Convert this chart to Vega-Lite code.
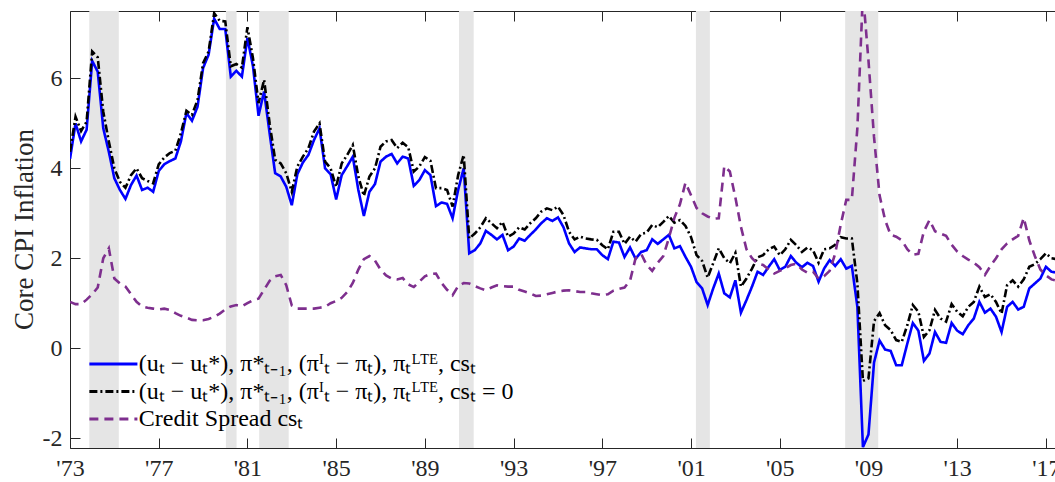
{
"$schema":"https://vega.github.io/schema/vega-lite/v6.json",
"width":985,"height":437,
"autosize":{"type":"none"},
"padding":{"left":70,"top":11,"right":0,"bottom":34},
"background":"white",
"config":{
 "view":{"stroke":"#262626","strokeWidth":1},
 "axis":{"domainColor":"#262626","tickColor":"#262626","labelColor":"#262626","titleColor":"#262626","labelFont":"Liberation Serif","titleFont":"Liberation Serif","labelFontSize":24,"grid":false,"tickSize":-10,"titleFontWeight":"normal"},
 "legend":{"orient":"none","legendX":31.4,"legendY":341,"symbolType":"M-2.5,0H2.5","symbolSize":369,"symbolStrokeWidth":3,"labelFont":"Liberation Serif","labelFontSize":24,"labelColor":"black","labelOffset":13.4,"padding":0,"rowPadding":3.5,"labelLimit":600}
},
"datasets":{
 "rec":[{"start":1973.87,"end":1975.2},{"start":1980.03,"end":1980.51},{"start":1981.53,"end":1982.86},{"start":1990.54,"end":1991.2},{"start":2001.22,"end":2001.85},{"start":2007.95,"end":2009.44}],
 "series":[
{"year":1973,"series":"A","value":4.21},{"year":1973.25,"series":"A","value":5.0},{"year":1973.5,"series":"A","value":4.6},{"year":1973.75,"series":"A","value":4.86},
{"year":1974,"series":"A","value":6.39},{"year":1974.25,"series":"A","value":6.15},{"year":1974.5,"series":"A","value":4.89},{"year":1974.75,"series":"A","value":4.37},
{"year":1975,"series":"A","value":3.78},{"year":1975.25,"series":"A","value":3.52},{"year":1975.5,"series":"A","value":3.32},{"year":1975.75,"series":"A","value":3.63},
{"year":1976,"series":"A","value":3.84},{"year":1976.25,"series":"A","value":3.52},{"year":1976.5,"series":"A","value":3.57},{"year":1976.75,"series":"A","value":3.48},
{"year":1977,"series":"A","value":3.94},{"year":1977.25,"series":"A","value":4.09},{"year":1977.5,"series":"A","value":4.16},{"year":1977.75,"series":"A","value":4.22},
{"year":1978,"series":"A","value":4.6},{"year":1978.25,"series":"A","value":5.23},{"year":1978.5,"series":"A","value":5.06},{"year":1978.75,"series":"A","value":5.37},
{"year":1979,"series":"A","value":6.23},{"year":1979.25,"series":"A","value":6.53},{"year":1979.5,"series":"A","value":7.33},{"year":1979.75,"series":"A","value":7.1},
{"year":1980,"series":"A","value":7.1},{"year":1980.25,"series":"A","value":6.04},{"year":1980.5,"series":"A","value":6.17},{"year":1980.75,"series":"A","value":6.04},
{"year":1981,"series":"A","value":6.9},{"year":1981.25,"series":"A","value":6.27},{"year":1981.5,"series":"A","value":5.17},{"year":1981.75,"series":"A","value":5.71},
{"year":1982,"series":"A","value":4.78},{"year":1982.25,"series":"A","value":3.89},{"year":1982.5,"series":"A","value":3.82},{"year":1982.75,"series":"A","value":3.59},
{"year":1983,"series":"A","value":3.18},{"year":1983.25,"series":"A","value":3.87},{"year":1983.5,"series":"A","value":4.13},{"year":1983.75,"series":"A","value":4.3},
{"year":1984,"series":"A","value":4.63},{"year":1984.25,"series":"A","value":4.89},{"year":1984.5,"series":"A","value":4.0},{"year":1984.75,"series":"A","value":3.87},
{"year":1985,"series":"A","value":3.31},{"year":1985.25,"series":"A","value":3.85},{"year":1985.5,"series":"A","value":4.05},{"year":1985.75,"series":"A","value":4.26},
{"year":1986,"series":"A","value":3.52},{"year":1986.25,"series":"A","value":2.94},{"year":1986.5,"series":"A","value":3.48},{"year":1986.75,"series":"A","value":3.65},
{"year":1987,"series":"A","value":4.15},{"year":1987.25,"series":"A","value":4.26},{"year":1987.5,"series":"A","value":4.32},{"year":1987.75,"series":"A","value":4.11},
{"year":1988,"series":"A","value":4.26},{"year":1988.25,"series":"A","value":4.22},{"year":1988.5,"series":"A","value":3.61},{"year":1988.75,"series":"A","value":3.74},
{"year":1989,"series":"A","value":3.96},{"year":1989.25,"series":"A","value":3.85},{"year":1989.5,"series":"A","value":3.16},{"year":1989.75,"series":"A","value":3.24},
{"year":1990,"series":"A","value":3.21},{"year":1990.25,"series":"A","value":2.89},{"year":1990.5,"series":"A","value":3.52},{"year":1990.75,"series":"A","value":4.0},
{"year":1991,"series":"A","value":2.11},{"year":1991.25,"series":"A","value":2.18},{"year":1991.5,"series":"A","value":2.33},{"year":1991.75,"series":"A","value":2.61},
{"year":1992,"series":"A","value":2.52},{"year":1992.25,"series":"A","value":2.42},{"year":1992.5,"series":"A","value":2.52},{"year":1992.75,"series":"A","value":2.18},
{"year":1993,"series":"A","value":2.26},{"year":1993.25,"series":"A","value":2.44},{"year":1993.5,"series":"A","value":2.39},{"year":1993.75,"series":"A","value":2.52},
{"year":1994,"series":"A","value":2.64},{"year":1994.25,"series":"A","value":2.78},{"year":1994.5,"series":"A","value":2.89},{"year":1994.75,"series":"A","value":2.83},
{"year":1995,"series":"A","value":2.91},{"year":1995.25,"series":"A","value":2.69},{"year":1995.5,"series":"A","value":2.33},{"year":1995.75,"series":"A","value":2.14},
{"year":1996,"series":"A","value":2.24},{"year":1996.25,"series":"A","value":2.22},{"year":1996.5,"series":"A","value":2.2},{"year":1996.75,"series":"A","value":2.2},
{"year":1997,"series":"A","value":2.07},{"year":1997.25,"series":"A","value":1.98},{"year":1997.5,"series":"A","value":2.37},{"year":1997.75,"series":"A","value":2.35},
{"year":1998,"series":"A","value":2.03},{"year":1998.25,"series":"A","value":2.24},{"year":1998.5,"series":"A","value":1.99},{"year":1998.75,"series":"A","value":2.14},
{"year":1999,"series":"A","value":2.18},{"year":1999.25,"series":"A","value":2.42},{"year":1999.5,"series":"A","value":2.32},{"year":1999.75,"series":"A","value":2.42},
{"year":2000,"series":"A","value":2.52},{"year":2000.25,"series":"A","value":2.22},{"year":2000.5,"series":"A","value":2.27},{"year":2000.75,"series":"A","value":2.03},
{"year":2001,"series":"A","value":1.81},{"year":2001.25,"series":"A","value":1.47},{"year":2001.5,"series":"A","value":1.33},{"year":2001.75,"series":"A","value":0.96},
{"year":2002,"series":"A","value":1.33},{"year":2002.25,"series":"A","value":1.66},{"year":2002.5,"series":"A","value":1.22},{"year":2002.75,"series":"A","value":1.13},
{"year":2003,"series":"A","value":1.51},{"year":2003.25,"series":"A","value":0.79},{"year":2003.5,"series":"A","value":1.07},{"year":2003.75,"series":"A","value":1.37},
{"year":2004,"series":"A","value":1.7},{"year":2004.25,"series":"A","value":1.63},{"year":2004.5,"series":"A","value":1.81},{"year":2004.75,"series":"A","value":1.98},
{"year":2005,"series":"A","value":1.74},{"year":2005.25,"series":"A","value":1.81},{"year":2005.5,"series":"A","value":2.05},{"year":2005.75,"series":"A","value":1.9},
{"year":2006,"series":"A","value":1.8},{"year":2006.25,"series":"A","value":1.9},{"year":2006.5,"series":"A","value":1.83},{"year":2006.75,"series":"A","value":1.48},
{"year":2007,"series":"A","value":1.77},{"year":2007.25,"series":"A","value":1.96},{"year":2007.5,"series":"A","value":1.83},{"year":2007.75,"series":"A","value":1.98},
{"year":2008,"series":"A","value":1.77},{"year":2008.25,"series":"A","value":1.83},{"year":2008.5,"series":"A","value":0.92},{"year":2008.75,"series":"A","value":-2.2},
{"year":2009,"series":"A","value":-1.92},{"year":2009.25,"series":"A","value":-0.32},{"year":2009.5,"series":"A","value":0.17},{"year":2009.75,"series":"A","value":-0.03},
{"year":2010,"series":"A","value":-0.06},{"year":2010.25,"series":"A","value":-0.38},{"year":2010.5,"series":"A","value":-0.38},{"year":2010.75,"series":"A","value":0.1},
{"year":2011,"series":"A","value":0.56},{"year":2011.25,"series":"A","value":0.39},{"year":2011.5,"series":"A","value":-0.28},{"year":2011.75,"series":"A","value":-0.12},
{"year":2012,"series":"A","value":0.36},{"year":2012.25,"series":"A","value":0.14},{"year":2012.5,"series":"A","value":0.12},{"year":2012.75,"series":"A","value":0.56},
{"year":2013,"series":"A","value":0.39},{"year":2013.25,"series":"A","value":0.31},{"year":2013.5,"series":"A","value":0.51},{"year":2013.75,"series":"A","value":0.66},
{"year":2014,"series":"A","value":1.03},{"year":2014.25,"series":"A","value":0.79},{"year":2014.5,"series":"A","value":0.88},{"year":2014.75,"series":"A","value":0.7},
{"year":2015,"series":"A","value":0.36},{"year":2015.25,"series":"A","value":0.92},{"year":2015.5,"series":"A","value":1.03},{"year":2015.75,"series":"A","value":0.86},
{"year":2016,"series":"A","value":0.92},{"year":2016.25,"series":"A","value":1.33},{"year":2016.5,"series":"A","value":1.44},{"year":2016.75,"series":"A","value":1.55},
{"year":2017,"series":"A","value":1.81},{"year":2017.25,"series":"A","value":1.7},{"year":2017.5,"series":"A","value":1.68},
{"year":1973,"series":"B","value":4.37},{"year":1973.25,"series":"B","value":5.15},{"year":1973.5,"series":"B","value":4.83},{"year":1973.75,"series":"B","value":5.04},
{"year":1974,"series":"B","value":6.6},{"year":1974.25,"series":"B","value":6.47},{"year":1974.5,"series":"B","value":5.26},{"year":1974.75,"series":"B","value":4.6},
{"year":1975,"series":"B","value":4.0},{"year":1975.25,"series":"B","value":3.7},{"year":1975.5,"series":"B","value":3.57},{"year":1975.75,"series":"B","value":3.85},
{"year":1976,"series":"B","value":4.0},{"year":1976.25,"series":"B","value":3.78},{"year":1976.5,"series":"B","value":3.72},{"year":1976.75,"series":"B","value":3.67},
{"year":1977,"series":"B","value":4.09},{"year":1977.25,"series":"B","value":4.24},{"year":1977.5,"series":"B","value":4.34},{"year":1977.75,"series":"B","value":4.39},
{"year":1978,"series":"B","value":4.78},{"year":1978.25,"series":"B","value":5.28},{"year":1978.5,"series":"B","value":5.19},{"year":1978.75,"series":"B","value":5.52},
{"year":1979,"series":"B","value":6.34},{"year":1979.25,"series":"B","value":6.6},{"year":1979.5,"series":"B","value":7.45},{"year":1979.75,"series":"B","value":7.28},
{"year":1980,"series":"B","value":7.27},{"year":1980.25,"series":"B","value":6.27},{"year":1980.5,"series":"B","value":6.32},{"year":1980.75,"series":"B","value":6.24},
{"year":1981,"series":"B","value":7.14},{"year":1981.25,"series":"B","value":6.45},{"year":1981.5,"series":"B","value":5.45},{"year":1981.75,"series":"B","value":5.97},
{"year":1982,"series":"B","value":5.0},{"year":1982.25,"series":"B","value":4.19},{"year":1982.5,"series":"B","value":4.11},{"year":1982.75,"series":"B","value":3.89},
{"year":1983,"series":"B","value":3.48},{"year":1983.25,"series":"B","value":4.04},{"year":1983.5,"series":"B","value":4.26},{"year":1983.75,"series":"B","value":4.45},
{"year":1984,"series":"B","value":4.82},{"year":1984.25,"series":"B","value":5.0},{"year":1984.5,"series":"B","value":4.15},{"year":1984.75,"series":"B","value":4.0},
{"year":1985,"series":"B","value":3.59},{"year":1985.25,"series":"B","value":4.11},{"year":1985.5,"series":"B","value":4.3},{"year":1985.75,"series":"B","value":4.52},
{"year":1986,"series":"B","value":3.82},{"year":1986.25,"series":"B","value":3.39},{"year":1986.5,"series":"B","value":3.82},{"year":1986.75,"series":"B","value":4.0},
{"year":1987,"series":"B","value":4.48},{"year":1987.25,"series":"B","value":4.6},{"year":1987.5,"series":"B","value":4.63},{"year":1987.75,"series":"B","value":4.45},
{"year":1988,"series":"B","value":4.57},{"year":1988.25,"series":"B","value":4.47},{"year":1988.5,"series":"B","value":3.93},{"year":1988.75,"series":"B","value":4.04},
{"year":1989,"series":"B","value":4.25},{"year":1989.25,"series":"B","value":4.17},{"year":1989.5,"series":"B","value":3.56},{"year":1989.75,"series":"B","value":3.56},
{"year":1990,"series":"B","value":3.52},{"year":1990.25,"series":"B","value":3.15},{"year":1990.5,"series":"B","value":3.85},{"year":1990.75,"series":"B","value":4.3},
{"year":1991,"series":"B","value":2.44},{"year":1991.25,"series":"B","value":2.55},{"year":1991.5,"series":"B","value":2.69},{"year":1991.75,"series":"B","value":2.89},
{"year":1992,"series":"B","value":2.78},{"year":1992.25,"series":"B","value":2.67},{"year":1992.5,"series":"B","value":2.81},{"year":1992.75,"series":"B","value":2.48},
{"year":1993,"series":"B","value":2.55},{"year":1993.25,"series":"B","value":2.69},{"year":1993.5,"series":"B","value":2.64},{"year":1993.75,"series":"B","value":2.78},
{"year":1994,"series":"B","value":2.89},{"year":1994.25,"series":"B","value":3.04},{"year":1994.5,"series":"B","value":3.11},{"year":1994.75,"series":"B","value":3.07},
{"year":1995,"series":"B","value":3.15},{"year":1995.25,"series":"B","value":2.96},{"year":1995.5,"series":"B","value":2.59},{"year":1995.75,"series":"B","value":2.42},
{"year":1996,"series":"B","value":2.48},{"year":1996.25,"series":"B","value":2.44},{"year":1996.5,"series":"B","value":2.42},{"year":1996.75,"series":"B","value":2.41},
{"year":1997,"series":"B","value":2.29},{"year":1997.25,"series":"B","value":2.2},{"year":1997.5,"series":"B","value":2.59},{"year":1997.75,"series":"B","value":2.59},
{"year":1998,"series":"B","value":2.32},{"year":1998.25,"series":"B","value":2.48},{"year":1998.5,"series":"B","value":2.37},{"year":1998.75,"series":"B","value":2.54},
{"year":1999,"series":"B","value":2.57},{"year":1999.25,"series":"B","value":2.74},{"year":1999.5,"series":"B","value":2.69},{"year":1999.75,"series":"B","value":2.81},
{"year":2000,"series":"B","value":2.94},{"year":2000.25,"series":"B","value":2.79},{"year":2000.5,"series":"B","value":2.85},{"year":2000.75,"series":"B","value":2.72},
{"year":2001,"series":"B","value":2.47},{"year":2001.25,"series":"B","value":2.07},{"year":2001.5,"series":"B","value":1.94},{"year":2001.75,"series":"B","value":1.57},
{"year":2002,"series":"B","value":1.89},{"year":2002.25,"series":"B","value":2.22},{"year":2002.5,"series":"B","value":2.0},{"year":2002.75,"series":"B","value":1.89},
{"year":2003,"series":"B","value":2.12},{"year":2003.25,"series":"B","value":1.37},{"year":2003.5,"series":"B","value":1.55},{"year":2003.75,"series":"B","value":1.77},
{"year":2004,"series":"B","value":2.02},{"year":2004.25,"series":"B","value":2.07},{"year":2004.5,"series":"B","value":2.2},{"year":2004.75,"series":"B","value":2.26},
{"year":2005,"series":"B","value":2.07},{"year":2005.25,"series":"B","value":2.2},{"year":2005.5,"series":"B","value":2.41},{"year":2005.75,"series":"B","value":2.29},
{"year":2006,"series":"B","value":2.14},{"year":2006.25,"series":"B","value":2.24},{"year":2006.5,"series":"B","value":2.18},{"year":2006.75,"series":"B","value":1.9},
{"year":2007,"series":"B","value":2.2},{"year":2007.25,"series":"B","value":2.22},{"year":2007.5,"series":"B","value":2.3},{"year":2007.75,"series":"B","value":2.47},
{"year":2008,"series":"B","value":2.44},{"year":2008.25,"series":"B","value":2.44},{"year":2008.5,"series":"B","value":1.44},{"year":2008.75,"series":"B","value":-0.73},
{"year":2009,"series":"B","value":-0.67},{"year":2009.25,"series":"B","value":0.6},{"year":2009.5,"series":"B","value":0.78},{"year":2009.75,"series":"B","value":0.51},
{"year":2010,"series":"B","value":0.4},{"year":2010.25,"series":"B","value":0.18},{"year":2010.5,"series":"B","value":0.14},{"year":2010.75,"series":"B","value":0.51},
{"year":2011,"series":"B","value":0.96},{"year":2011.25,"series":"B","value":0.81},{"year":2011.5,"series":"B","value":0.25},{"year":2011.75,"series":"B","value":0.4},
{"year":2012,"series":"B","value":0.85},{"year":2012.25,"series":"B","value":0.66},{"year":2012.5,"series":"B","value":0.59},{"year":2012.75,"series":"B","value":0.98},
{"year":2013,"series":"B","value":0.81},{"year":2013.25,"series":"B","value":0.71},{"year":2013.5,"series":"B","value":0.92},{"year":2013.75,"series":"B","value":1.03},
{"year":2014,"series":"B","value":1.37},{"year":2014.25,"series":"B","value":1.14},{"year":2014.5,"series":"B","value":1.2},{"year":2014.75,"series":"B","value":1.03},
{"year":2015,"series":"B","value":0.77},{"year":2015.25,"series":"B","value":1.4},{"year":2015.5,"series":"B","value":1.51},{"year":2015.75,"series":"B","value":1.37},
{"year":2016,"series":"B","value":1.53},{"year":2016.25,"series":"B","value":1.81},{"year":2016.5,"series":"B","value":1.87},{"year":2016.75,"series":"B","value":1.98},
{"year":2017,"series":"B","value":2.11},{"year":2017.25,"series":"B","value":2.0},{"year":2017.5,"series":"B","value":1.98},
{"year":1973,"series":"C","value":1.03},{"year":1973.25,"series":"C","value":0.98},{"year":1973.5,"series":"C","value":0.98},{"year":1973.75,"series":"C","value":1.08},
{"year":1974,"series":"C","value":1.2},{"year":1974.25,"series":"C","value":1.35},{"year":1974.5,"series":"C","value":2.0},{"year":1974.75,"series":"C","value":2.22},
{"year":1975,"series":"C","value":1.55},{"year":1975.25,"series":"C","value":1.44},{"year":1975.5,"series":"C","value":1.37},{"year":1975.75,"series":"C","value":1.2},
{"year":1976,"series":"C","value":1.03},{"year":1976.25,"series":"C","value":0.93},{"year":1976.5,"series":"C","value":0.9},{"year":1976.75,"series":"C","value":0.88},
{"year":1977,"series":"C","value":0.86},{"year":1977.25,"series":"C","value":0.88},{"year":1977.5,"series":"C","value":0.85},{"year":1977.75,"series":"C","value":0.78},
{"year":1978,"series":"C","value":0.72},{"year":1978.25,"series":"C","value":0.68},{"year":1978.5,"series":"C","value":0.63},{"year":1978.75,"series":"C","value":0.62},
{"year":1979,"series":"C","value":0.62},{"year":1979.25,"series":"C","value":0.65},{"year":1979.5,"series":"C","value":0.7},{"year":1979.75,"series":"C","value":0.77},
{"year":1980,"series":"C","value":0.86},{"year":1980.25,"series":"C","value":0.93},{"year":1980.5,"series":"C","value":0.96},{"year":1980.75,"series":"C","value":0.93},
{"year":1981,"series":"C","value":1.0},{"year":1981.25,"series":"C","value":1.07},{"year":1981.5,"series":"C","value":1.1},{"year":1981.75,"series":"C","value":1.3},
{"year":1982,"series":"C","value":1.5},{"year":1982.25,"series":"C","value":1.6},{"year":1982.5,"series":"C","value":1.63},{"year":1982.75,"series":"C","value":1.4},
{"year":1983,"series":"C","value":0.95},{"year":1983.25,"series":"C","value":0.88},{"year":1983.5,"series":"C","value":0.88},{"year":1983.75,"series":"C","value":0.88},
{"year":1984,"series":"C","value":0.88},{"year":1984.25,"series":"C","value":0.9},{"year":1984.5,"series":"C","value":0.92},{"year":1984.75,"series":"C","value":1.0},
{"year":1985,"series":"C","value":1.05},{"year":1985.25,"series":"C","value":1.12},{"year":1985.5,"series":"C","value":1.25},{"year":1985.75,"series":"C","value":1.45},
{"year":1986,"series":"C","value":1.75},{"year":1986.25,"series":"C","value":1.98},{"year":1986.5,"series":"C","value":2.05},{"year":1986.75,"series":"C","value":1.95},
{"year":1987,"series":"C","value":1.75},{"year":1987.25,"series":"C","value":1.62},{"year":1987.5,"series":"C","value":1.55},{"year":1987.75,"series":"C","value":1.53},
{"year":1988,"series":"C","value":1.56},{"year":1988.25,"series":"C","value":1.42},{"year":1988.5,"series":"C","value":1.36},{"year":1988.75,"series":"C","value":1.48},
{"year":1989,"series":"C","value":1.6},{"year":1989.25,"series":"C","value":1.65},{"year":1989.5,"series":"C","value":1.66},{"year":1989.75,"series":"C","value":1.45},
{"year":1990,"series":"C","value":1.3},{"year":1990.25,"series":"C","value":1.18},{"year":1990.5,"series":"C","value":1.38},{"year":1990.75,"series":"C","value":1.45},
{"year":1991,"series":"C","value":1.44},{"year":1991.25,"series":"C","value":1.38},{"year":1991.5,"series":"C","value":1.33},{"year":1991.75,"series":"C","value":1.29},
{"year":1992,"series":"C","value":1.35},{"year":1992.25,"series":"C","value":1.4},{"year":1992.5,"series":"C","value":1.38},{"year":1992.75,"series":"C","value":1.37},
{"year":1993,"series":"C","value":1.37},{"year":1993.25,"series":"C","value":1.3},{"year":1993.5,"series":"C","value":1.26},{"year":1993.75,"series":"C","value":1.22},
{"year":1994,"series":"C","value":1.16},{"year":1994.25,"series":"C","value":1.17},{"year":1994.5,"series":"C","value":1.2},{"year":1994.75,"series":"C","value":1.23},
{"year":1995,"series":"C","value":1.26},{"year":1995.25,"series":"C","value":1.28},{"year":1995.5,"series":"C","value":1.29},{"year":1995.75,"series":"C","value":1.27},
{"year":1996,"series":"C","value":1.25},{"year":1996.25,"series":"C","value":1.25},{"year":1996.5,"series":"C","value":1.22},{"year":1996.75,"series":"C","value":1.2},
{"year":1997,"series":"C","value":1.18},{"year":1997.25,"series":"C","value":1.2},{"year":1997.5,"series":"C","value":1.28},{"year":1997.75,"series":"C","value":1.32},
{"year":1998,"series":"C","value":1.35},{"year":1998.25,"series":"C","value":1.5},{"year":1998.5,"series":"C","value":2.0},{"year":1998.75,"series":"C","value":2.1},
{"year":1999,"series":"C","value":1.85},{"year":1999.25,"series":"C","value":1.72},{"year":1999.5,"series":"C","value":1.9},{"year":1999.75,"series":"C","value":2.05},
{"year":2000,"series":"C","value":2.45},{"year":2000.25,"series":"C","value":2.9},{"year":2000.5,"series":"C","value":3.2},{"year":2000.75,"series":"C","value":3.68},
{"year":2001,"series":"C","value":3.4},{"year":2001.25,"series":"C","value":3.12},{"year":2001.5,"series":"C","value":3.0},{"year":2001.75,"series":"C","value":2.93},
{"year":2002,"series":"C","value":2.88},{"year":2002.25,"series":"C","value":2.89},{"year":2002.5,"series":"C","value":4.05},{"year":2002.75,"series":"C","value":3.93},
{"year":2003,"series":"C","value":3.35},{"year":2003.25,"series":"C","value":2.7},{"year":2003.5,"series":"C","value":2.2},{"year":2003.75,"series":"C","value":2.0},
{"year":2004,"series":"C","value":1.88},{"year":2004.25,"series":"C","value":1.85},{"year":2004.5,"series":"C","value":1.75},{"year":2004.75,"series":"C","value":1.66},
{"year":2005,"series":"C","value":1.72},{"year":2005.25,"series":"C","value":1.78},{"year":2005.5,"series":"C","value":1.85},{"year":2005.75,"series":"C","value":1.88},
{"year":2006,"series":"C","value":1.75},{"year":2006.25,"series":"C","value":1.68},{"year":2006.5,"series":"C","value":1.7},{"year":2006.75,"series":"C","value":1.55},
{"year":2007,"series":"C","value":1.6},{"year":2007.25,"series":"C","value":1.72},{"year":2007.5,"series":"C","value":2.1},{"year":2007.75,"series":"C","value":2.75},
{"year":2008,"series":"C","value":3.3},{"year":2008.25,"series":"C","value":3.3},{"year":2008.5,"series":"C","value":4.9},{"year":2008.75,"series":"C","value":7.9},
{"year":2009,"series":"C","value":6.4},{"year":2009.25,"series":"C","value":4.7},{"year":2009.5,"series":"C","value":3.4},{"year":2009.75,"series":"C","value":2.85},
{"year":2010,"series":"C","value":2.52},{"year":2010.25,"series":"C","value":2.48},{"year":2010.5,"series":"C","value":2.4},{"year":2010.75,"series":"C","value":2.2},
{"year":2011,"series":"C","value":2.08},{"year":2011.25,"series":"C","value":2.1},{"year":2011.5,"series":"C","value":2.6},{"year":2011.75,"series":"C","value":2.85},
{"year":2012,"series":"C","value":2.6},{"year":2012.25,"series":"C","value":2.55},{"year":2012.5,"series":"C","value":2.5},{"year":2012.75,"series":"C","value":2.3},
{"year":2013,"series":"C","value":2.15},{"year":2013.25,"series":"C","value":2.05},{"year":2013.5,"series":"C","value":1.97},{"year":2013.75,"series":"C","value":1.9},
{"year":2014,"series":"C","value":1.8},{"year":2014.25,"series":"C","value":1.63},{"year":2014.5,"series":"C","value":1.83},{"year":2014.75,"series":"C","value":2.0},
{"year":2015,"series":"C","value":2.2},{"year":2015.25,"series":"C","value":2.33},{"year":2015.5,"series":"C","value":2.42},{"year":2015.75,"series":"C","value":2.5},
{"year":2016,"series":"C","value":2.9},{"year":2016.25,"series":"C","value":2.4},{"year":2016.5,"series":"C","value":2.05},{"year":2016.75,"series":"C","value":1.75},
{"year":2017,"series":"C","value":1.62},{"year":2017.25,"series":"C","value":1.53},{"year":2017.5,"series":"C","value":1.5}
 ]
},
"layer":[
 {"data":{"name":"rec"},
  "mark":{"type":"rect","color":"#E5E5E5"},
  "encoding":{
   "x":{"field":"start","type":"quantitative","scale":{"domain":[1973,2017.41],"nice":false,"zero":false},
        "axis":{"orient":"bottom","title":null,"values":[1973,1977,1981,1985,1989,1993,1997,2001,2005,2009,2013,2017],"format":"d","labelExpr":"\"'\" + slice(datum.label, 2)","labelPadding":18,"labelFlush":false,"labelOverlap":false,"domain":false}},
   "x2":{"field":"end"}
  }},
 {"data":{"name":"series"},
  "mark":{"type":"line","strokeWidth":2.6,"clip":true},
  "encoding":{
   "x":{"field":"year","type":"quantitative","axis":{"orient":"top","title":null,"labels":false,"values":[1973,1977,1981,1985,1989,1993,1997,2001,2005,2009,2013,2017],"domain":false}},
   "y":{"field":"value","type":"quantitative","scale":{"domain":[-2.22,7.5],"nice":false,"zero":false},
        "axis":{"title":"Core CPI Inflation","titleFontSize":27,"titleX":-38,"titleY":218,"titleBaseline":"alphabetic","values":[-2,0,2,4,6],"labelExpr":"toString(datum.value)","labelPadding":18,"domain":false}},
   "color":{"field":"series","type":"nominal","scale":{"domain":["A","B","C"],"range":["#0000FF","#000000","#7E2F8E"]},
     "legend":{"title":null,"labelExpr":"datum.value == 'A' ? '(uₜ − uₜ*), π*ₜ₋₁, (πᴵₜ − πₜ), πₜᴸᵀᴱ, csₜ' : datum.value == 'B' ? '(uₜ − uₜ*), π*ₜ₋₁, (πᴵₜ − πₜ), πₜᴸᵀᴱ, csₜ = 0' : 'Credit Spread csₜ'"}},
   "strokeDash":{"field":"series","type":"nominal","scale":{"domain":["A","B","C"],"range":[[1,0],[8,3,2,3],[9,6]]},
     "legend":{"title":null,"labelExpr":"datum.value == 'A' ? '(uₜ − uₜ*), π*ₜ₋₁, (πᴵₜ − πₜ), πₜᴸᵀᴱ, csₜ' : datum.value == 'B' ? '(uₜ − uₜ*), π*ₜ₋₁, (πᴵₜ − πₜ), πₜᴸᵀᴱ, csₜ = 0' : 'Credit Spread csₜ'"}}
  }}
],
"resolve":{"axis":{"x":"independent"}}
}
